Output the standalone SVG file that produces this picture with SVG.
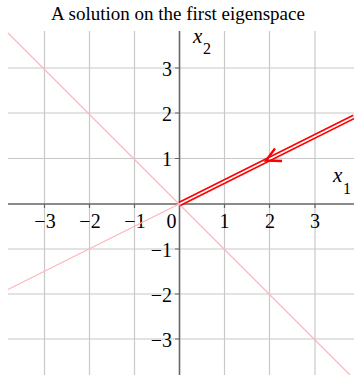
<svg xmlns="http://www.w3.org/2000/svg" width="354" height="375" viewBox="0 0 354 375">
<style>
.grid{stroke:#c8c8c8;stroke-width:1.2;fill:none}
.axis{stroke:#666;stroke-width:1.6;fill:none}
.tick{stroke:#666;stroke-width:1.2}
.pink{stroke:#ffb6c1;stroke-width:1.3;fill:none}
text{font-family:"Liberation Serif","Times New Roman",serif;fill:#000}
.lbl text{font-size:20px}
</style>
<rect width="354" height="375" fill="#fff"/>
<text x="178" y="20" text-anchor="middle" font-size="19">A solution on the first eigenspace</text>
<g id="grid">
<path class="grid" d="M44.5 31V375M89.5 31V375M134.5 31V375M224.5 31V375M269.5 31V375M315 31V375"/>
<path class="grid" d="M8 68H354M8 113H354M8 158.5H354M8 249H354M8 294H354M8 339H354"/>
</g>
<g id="axes">
<path class="axis" d="M8 204H354M179.5 31V375"/>
<path class="tick" d="M44.5 204v4M89.5 204v4M134.5 204v4M224.5 204v4M269.5 204v4M315 204v4M175 68h4M175 113h4M175 158.5h4M175 249h4M175 294h4M175 339h4"/>
</g>
<g id="tick-labels" class="lbl">
<text x="45" y="228" text-anchor="middle">−3</text>
<text x="90" y="228" text-anchor="middle">−2</text>
<text x="135" y="228" text-anchor="middle">−1</text>
<text x="171.5" y="228" text-anchor="middle">0</text>
<text x="224.5" y="228" text-anchor="middle">1</text>
<text x="270" y="228" text-anchor="middle">2</text>
<text x="315" y="228" text-anchor="middle">3</text>
<text x="172" y="76" text-anchor="end">3</text>
<text x="172" y="120.5" text-anchor="end">2</text>
<text x="172" y="165.5" text-anchor="end">1</text>
<text x="172" y="256.5" text-anchor="end">−1</text>
<text x="172" y="301.5" text-anchor="end">−2</text>
<text x="172" y="346.5" text-anchor="end">−3</text>
</g>
<g id="axis-labels">
<text x="193" y="43" font-size="21" font-style="italic">x</text>
<text x="203" y="54" font-size="16">2</text>
<text x="333" y="182" font-size="21" font-style="italic">x</text>
<text x="343" y="194" font-size="16">1</text>
</g>
<g id="eigenlines">
<path class="pink" d="M8 33L350 375"/>
<path class="pink" d="M8 289.5L354 116.5"/>
</g>
<g id="solution">
<path d="M179.5 204L354 116.8" stroke="#ff0000" stroke-width="5" fill="none"/>
<path d="M179.5 204L354 116.8" stroke="#fff" stroke-width="1.6" fill="none"/>
<path d="M275 148.5L266 160.5L282 161" stroke="#ff0000" stroke-width="2.4" fill="none" stroke-linejoin="miter"/>
</g>
</svg>
